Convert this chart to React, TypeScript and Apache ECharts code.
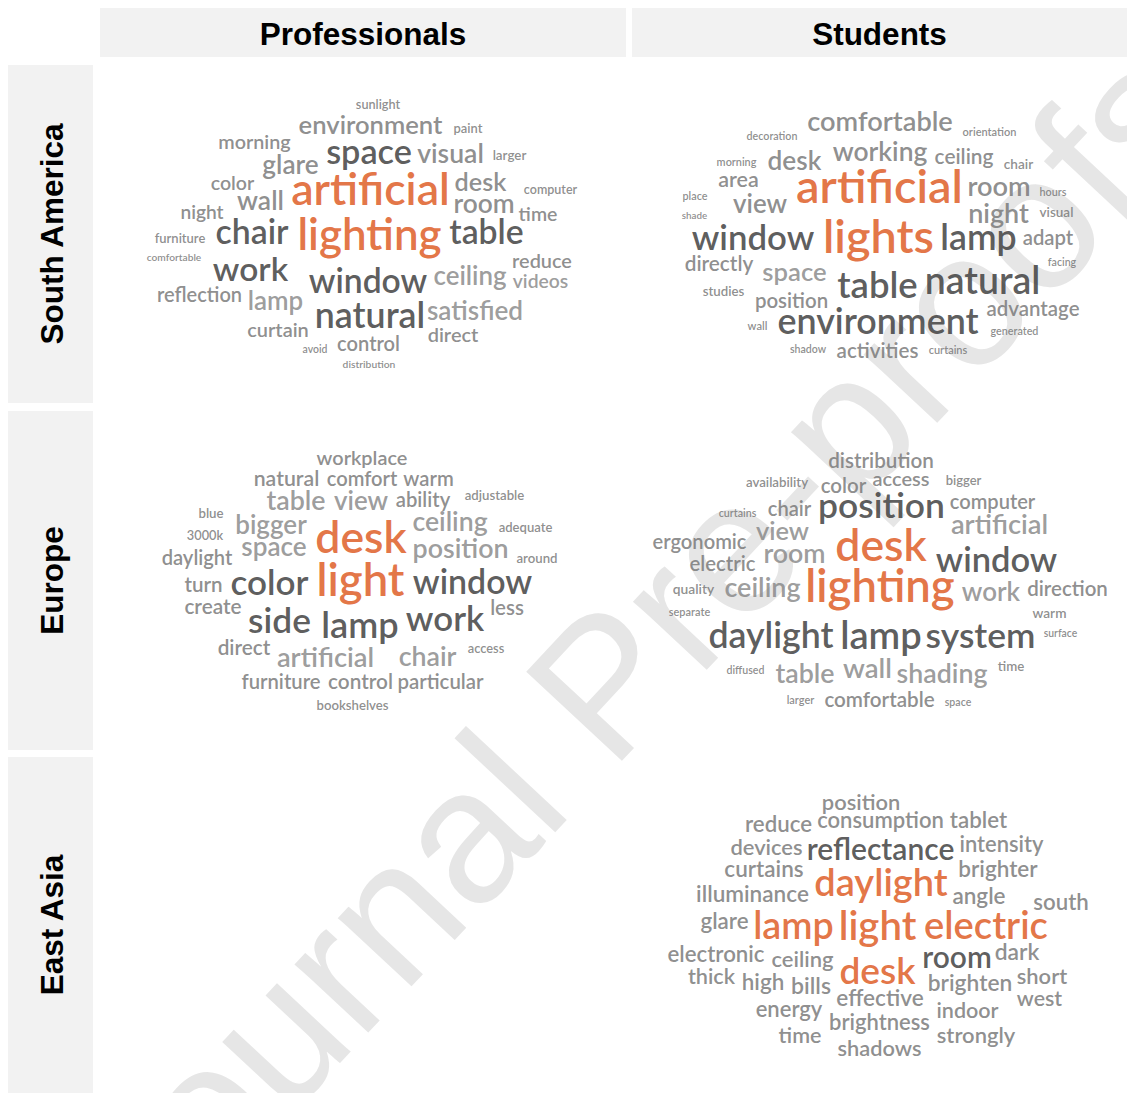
import React, { useEffect, useRef } from 'react';
import * as echarts from 'echarts';

// [word, left x, right x, middle y, tone]
type W = [string, number, number, number, string];

const columnLabels = ['Professionals', 'Students'];
const rowLabels = ['South America', 'Europe', 'East Asia'];

const southAmericaProfessionals: W[] = [
  ['sunlight', 356, 400, 105, 'g'],
  ['environment', 299, 442, 126, 'g'],
  ['paint', 454, 482, 129, 'g'],
  ['morning', 219, 290, 142, 'g'],
  ['space', 327, 411, 153, 'd'],
  ['visual', 418, 483, 155, 'g'],
  ['larger', 493, 526, 156, 'g'],
  ['glare', 263, 318, 166, 'g'],
  ['color', 211, 254, 184, 'g'],
  ['artificial', 293, 448, 191, 'o'],
  ['desk', 455, 506, 183, 'g'],
  ['computer', 524, 577, 190, 'g'],
  ['wall', 238, 283, 202, 'g'],
  ['room', 455, 513, 205, 'g'],
  ['night', 181, 223, 213, 'g'],
  ['time', 519, 557, 215, 'g'],
  ['chair', 216, 288, 233, 'd'],
  ['lighting', 299, 440, 236, 'o'],
  ['table', 450, 523, 233, 'd'],
  ['furniture', 155, 205, 239, 'g'],
  ['comfortable', 147, 201, 258, 'g'],
  ['work', 213, 288, 270, 'd'],
  ['reduce', 513, 571, 261, 'g'],
  ['window', 309, 427, 282, 'd'],
  ['ceiling', 434, 506, 277, 'l'],
  ['videos', 513, 568, 282, 'l'],
  ['reflection', 158, 241, 295, 'g'],
  ['lamp', 249, 302, 302, 'l'],
  ['natural', 317, 423, 317, 'd'],
  ['satisfied', 428, 522, 312, 'l'],
  ['curtain', 248, 308, 330, 'g'],
  ['direct', 428, 478, 335, 'g'],
  ['control', 338, 399, 344, 'g'],
  ['avoid', 303, 327, 350, 'g'],
  ['distribution', 343, 395, 365, 'g'],
];

const southAmericaStudents: W[] = [
  ['comfortable', 808, 952, 122, 'g'],
  ['decoration', 747, 797, 136, 'g'],
  ['orientation', 963, 1016, 132, 'g'],
  ['morning', 717, 756, 162, 'g'],
  ['desk', 768, 821, 162, 'g'],
  ['working', 833, 927, 153, 'g'],
  ['ceiling', 935, 993, 157, 'g'],
  ['chair', 1004, 1033, 165, 'g'],
  ['area', 719, 758, 181, 'g'],
  ['artificial', 798, 961, 188, 'o'],
  ['room', 969, 1029, 187, 'g'],
  ['hours', 1040, 1066, 192, 'g'],
  ['place', 683, 707, 196, 'g'],
  ['view', 733, 787, 205, 'g'],
  ['shade', 682, 707, 216, 'g'],
  ['night', 969, 1028, 214, 'g'],
  ['visual', 1040, 1073, 213, 'g'],
  ['window', 692, 814, 239, 'd'],
  ['lights', 825, 932, 238, 'o'],
  ['lamp', 942, 1015, 239, 'd'],
  ['adapt', 1023, 1073, 238, 'g'],
  ['directly', 685, 753, 264, 'g'],
  ['space', 763, 826, 273, 'l'],
  ['facing', 1048, 1076, 263, 'g'],
  ['table', 838, 917, 287, 'd'],
  ['natural', 927, 1038, 282, 'd'],
  ['studies', 703, 744, 292, 'g'],
  ['position', 756, 827, 301, 'g'],
  ['advantage', 987, 1079, 309, 'g'],
  ['wall', 748, 767, 326, 'g'],
  ['environment', 778, 978, 323, 'd'],
  ['generated', 991, 1038, 331, 'g'],
  ['shadow', 790, 826, 350, 'g'],
  ['activities', 837, 918, 351, 'g'],
  ['curtains', 929, 967, 350, 'g'],
];

const europeProfessionals: W[] = [
  ['workplace', 317, 407, 458, 'g'],
  ['natural', 255, 318, 479, 'g'],
  ['comfort', 327, 397, 479, 'g'],
  ['warm', 404, 453, 479, 'g'],
  ['table', 267, 325, 502, 'l'],
  ['view', 334, 388, 502, 'l'],
  ['ability', 396, 450, 500, 'g'],
  ['adjustable', 465, 524, 496, 'g'],
  ['blue', 199, 223, 514, 'g'],
  ['bigger', 236, 306, 526, 'l'],
  ['desk', 316, 406, 539, 'o'],
  ['ceiling', 413, 487, 523, 'l'],
  ['adequate', 499, 552, 528, 'g'],
  ['3000k', 187, 223, 536, 'g'],
  ['space', 242, 306, 548, 'l'],
  ['position', 414, 507, 550, 'l'],
  ['daylight', 162, 232, 558, 'g'],
  ['around', 517, 557, 559, 'g'],
  ['turn', 185, 222, 585, 'g'],
  ['color', 231, 308, 583, 'd'],
  ['light', 318, 403, 582, 'o'],
  ['window', 413, 532, 583, 'd'],
  ['create', 185, 241, 607, 'g'],
  ['less', 491, 523, 608, 'g'],
  ['side', 249, 310, 622, 'd'],
  ['lamp', 323, 397, 627, 'd'],
  ['work', 406, 484, 620, 'd'],
  ['direct', 218, 270, 648, 'g'],
  ['artificial', 278, 373, 658, 'l'],
  ['chair', 399, 456, 658, 'l'],
  ['access', 468, 504, 649, 'g'],
  ['furniture', 242, 320, 682, 'g'],
  ['control', 329, 392, 682, 'g'],
  ['particular', 398, 483, 682, 'g'],
  ['bookshelves', 317, 388, 706, 'g'],
];

const europeStudents: W[] = [
  ['distribution', 829, 933, 461, 'g'],
  ['availability', 746, 808, 483, 'g'],
  ['color', 821, 866, 486, 'g'],
  ['access', 873, 929, 479, 'g'],
  ['bigger', 946, 981, 481, 'g'],
  ['curtains', 719, 756, 513, 'g'],
  ['chair', 768, 811, 509, 'g'],
  ['position', 820, 943, 507, 'd'],
  ['computer', 950, 1035, 502, 'g'],
  ['artificial', 952, 1047, 525, 'l'],
  ['view', 756, 809, 532, 'l'],
  ['ergonomic', 653, 746, 542, 'g'],
  ['desk', 836, 926, 547, 'o'],
  ['room', 765, 824, 555, 'l'],
  ['window', 936, 1057, 561, 'd'],
  ['electric', 690, 755, 564, 'g'],
  ['quality', 673, 714, 589, 'g'],
  ['ceiling', 725, 800, 588, 'l'],
  ['lighting', 807, 953, 588, 'o'],
  ['work', 962, 1020, 593, 'l'],
  ['direction', 1028, 1107, 589, 'g'],
  ['separate', 669, 710, 612, 'g'],
  ['warm', 1033, 1066, 614, 'g'],
  ['daylight', 709, 833, 637, 'd'],
  ['lamp', 842, 920, 637, 'd'],
  ['system', 927, 1034, 637, 'd'],
  ['surface', 1044, 1077, 634, 'g'],
  ['diffused', 727, 764, 671, 'g'],
  ['table', 776, 834, 675, 'l'],
  ['wall', 844, 891, 669, 'l'],
  ['shading', 897, 987, 675, 'l'],
  ['time', 998, 1024, 667, 'g'],
  ['larger', 787, 814, 700, 'g'],
  ['comfortable', 825, 934, 700, 'g'],
  ['space', 945, 971, 703, 'g'],
];

const eastAsiaStudents: W[] = [
  ['position', 823, 899, 803, 'g'],
  ['reduce', 746, 811, 825, 'g'],
  ['consumption', 818, 943, 821, 'g'],
  ['tablet', 950, 1007, 821, 'g'],
  ['devices', 731, 802, 848, 'g'],
  ['reflectance', 808, 953, 850, 'd'],
  ['intensity', 960, 1043, 845, 'g'],
  ['curtains', 725, 803, 870, 'g'],
  ['brighter', 959, 1037, 870, 'g'],
  ['daylight', 815, 947, 884, 'o'],
  ['illuminance', 697, 808, 895, 'g'],
  ['angle', 953, 1005, 897, 'g'],
  ['south', 1034, 1088, 903, 'g'],
  ['glare', 701, 748, 922, 'g'],
  ['lamp', 755, 832, 927, 'o'],
  ['light', 840, 915, 927, 'o'],
  ['electric', 925, 1047, 927, 'o'],
  ['electronic', 668, 764, 955, 'g'],
  ['ceiling', 772, 833, 960, 'g'],
  ['desk', 840, 915, 972, 'o'],
  ['room', 924, 990, 958, 'd'],
  ['dark', 995, 1039, 953, 'g'],
  ['thick', 688, 735, 978, 'g'],
  ['high', 743, 783, 983, 'g'],
  ['bills', 792, 830, 987, 'g'],
  ['brighten', 929, 1011, 984, 'g'],
  ['short', 1017, 1067, 977, 'g'],
  ['effective', 837, 923, 999, 'g'],
  ['west', 1017, 1062, 999, 'g'],
  ['energy', 756, 822, 1010, 'g'],
  ['indoor', 937, 998, 1012, 'g'],
  ['brightness', 830, 929, 1023, 'g'],
  ['time', 779, 821, 1037, 'g'],
  ['strongly', 937, 1015, 1036, 'g'],
  ['shadows', 838, 921, 1049, 'g'],
];

const panels = [
  { name: 'South America · Professionals', words: southAmericaProfessionals },
  { name: 'South America · Students', words: southAmericaStudents },
  { name: 'Europe · Professionals', words: europeProfessionals },
  { name: 'Europe · Students', words: europeStudents },
  { name: 'East Asia · Students', words: eastAsiaStudents },
];

const TONES: Record<string, string> = {
  o: '#dc5116',
  d: '#333333',
  g: '#727272',
  l: '#838383',
};

const WIDTH = 1127;
const HEIGHT = 1093;
const COLS: [number, number][] = [[100, 626], [632, 1127]];
const ROWS: [number, number][] = [[65, 403], [411, 750], [757, 1093]];
const HEADER_Y: [number, number] = [8, 57];
const ROW_X: [number, number] = [8, 93];
const WORD_FONT = 'Lato';
const WORD_WEIGHT = 600;
const V_SHIFT = 0.07;

let measureCtx: CanvasRenderingContext2D | null = null;
function inkWidthEm(word: string): number {
  if (!measureCtx) measureCtx = document.createElement('canvas').getContext('2d');
  const ctx = measureCtx!;
  ctx.font = `${WORD_WEIGHT} 100px ${WORD_FONT}`;
  const m = ctx.measureText(word);
  const l = m.actualBoundingBoxLeft ?? 0;
  const r = m.actualBoundingBoxRight ?? m.width;
  const w = l + r > 0 ? l + r : m.width;
  return w / 100;
}

function buildOption(): echarts.EChartsOption {
  const series = panels.map((p) => ({
    type: 'scatter' as const,
    name: p.name,
    symbolSize: 1,
    silent: true,
    z: 5,
    itemStyle: { color: 'rgba(0,0,0,0)' },
    label: {
      show: true,
      position: 'inside' as const,
      formatter: '{b}',
      fontFamily: WORD_FONT,
      fontWeight: WORD_WEIGHT,
    },
    data: p.words.map(([w, l, r, y, t]) => {
      const fs = (r - l) / inkWidthEm(w);
      return {
        name: w,
        value: [(l + r) / 2, y - V_SHIFT * fs],
        label: { fontSize: fs, color: TONES[t] },
      };
    }),
  }));

  const graphic: any[] = [];
  COLS.forEach(([x0, x1], i) => {
    graphic.push({
      type: 'rect',
      z: 0,
      shape: { x: x0, y: HEADER_Y[0], width: x1 - x0, height: HEADER_Y[1] - HEADER_Y[0] },
      style: { fill: '#f2f2f2' },
    });
    graphic.push({
      type: 'text',
      z: 2,
      x: (x0 + x1) / 2,
      y: (HEADER_Y[0] + HEADER_Y[1]) / 2 + 1,
      style: {
        text: columnLabels[i],
        fontFamily: 'Liberation Sans',
        fontWeight: 'bold',
        fontSize: 31.5,
        fill: '#000',
        align: 'center',
        verticalAlign: 'middle',
      },
    });
  });
  ROWS.forEach(([y0, y1], i) => {
    graphic.push({
      type: 'rect',
      z: 0,
      shape: { x: ROW_X[0], y: y0, width: ROW_X[1] - ROW_X[0], height: y1 - y0 },
      style: { fill: '#f2f2f2' },
    });
    graphic.push({
      type: 'text',
      z: 2,
      x: (ROW_X[0] + ROW_X[1]) / 2 + 1,
      y: (y0 + y1) / 2,
      rotation: Math.PI / 2,
      style: {
        text: rowLabels[i],
        fontFamily: 'Liberation Sans',
        fontWeight: 'bold',
        fontSize: 31.5,
        fill: '#000',
        align: 'center',
        verticalAlign: 'middle',
      },
    });
  });
  graphic.push({
    type: 'text',
    z: 1,
    x: 635,
    y: 650,
    rotation: (47 * Math.PI) / 180,
    silent: true,
    style: {
      text: 'Journal Pre-proofs',
      fontFamily: 'Liberation Sans',
      fontSize: 190,
      fill: '#e6e6e6',
      align: 'center',
      verticalAlign: 'middle',
    },
  });

  return {
    animation: false,
    backgroundColor: '#ffffff',
    grid: { left: 0, right: 0, top: 0, bottom: 0 },
    xAxis: { type: 'value', min: 0, max: WIDTH, show: false },
    yAxis: { type: 'value', min: 0, max: HEIGHT, inverse: true, show: false },
    graphic,
    series,
  } as echarts.EChartsOption;
}

export default function App() {
  const ref = useRef<HTMLDivElement>(null);
  useEffect(() => {
    document.body.style.margin = '0';
    if (!ref.current) return;
    const chart = echarts.init(ref.current, null, { renderer: 'svg' });
    chart.setOption(buildOption());
    return () => chart.dispose();
  }, []);
  return <div ref={ref} style={{ width: WIDTH, height: HEIGHT }} />;
}
